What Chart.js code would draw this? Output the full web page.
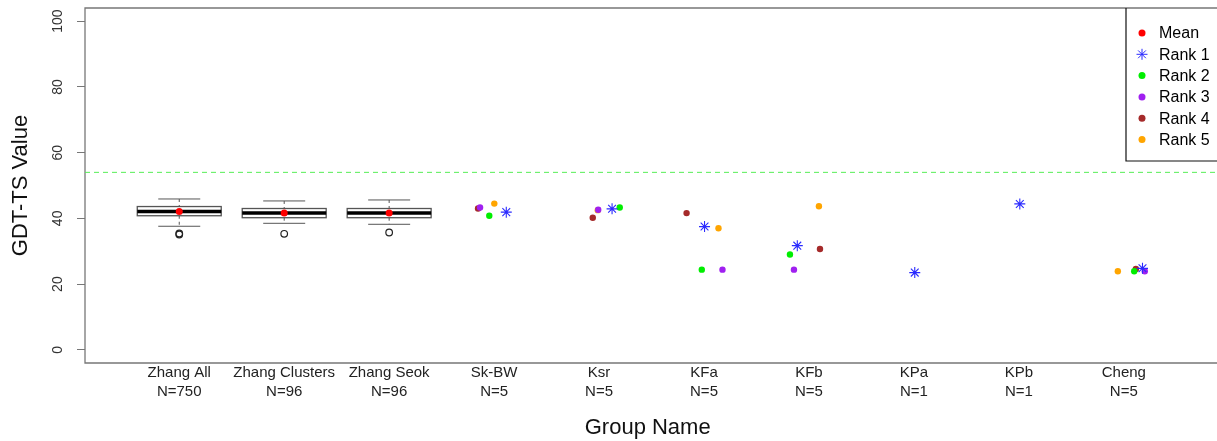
<!DOCTYPE html>
<html>
<head>
<meta charset="utf-8">
<script src="https://cdn.jsdelivr.net/npm/chart.js@4.4.0/dist/chart.umd.min.js"></script>
<style>
  html, body { margin: 0; padding: 0; background: #fff; overflow: hidden; }
  #wrap { width: 1217px; height: 441px; }
</style>
</head>
<body>
<div id="wrap"><canvas id="gdt" width="1217" height="441"></canvas></div>
<script>
// Groups on the x axis
const groups = ['Zhang All', 'Zhang Clusters', 'Zhang Seok', 'Sk-BW', 'Ksr', 'KFa', 'KFb', 'KPa', 'KPb', 'Cheng'];
const groupN = [750, 96, 96, 5, 5, 5, 5, 1, 1, 5];
const yTicks = [0, 20, 40, 60, 80, 100];

// Box plots (first three groups)
const boxLow = [37.6, 38.5, 38.2];
const boxQ1 = [40.8, 40.2, 40.2];
const boxMedian = [42.1, 41.6, 41.6];
const boxQ3 = [43.6, 43.0, 43.0];
const boxHigh = [45.9, 45.3, 45.6];
const boxOutliers = [[35.1, 35.4], [35.3], [35.7]];
const meanX = [1, 2, 3];
const meanY = [42.1, 41.6, 41.6];

// Ranked models (x is the jittered group position)
const rank1X = [4.116, 5.124, 6.005, 6.889, 8.008, 9.009, 10.178];
const rank1Y = [41.9, 42.9, 37.5, 31.7, 23.5, 44.4, 24.8];
const rank2X = [3.954, 5.197, 5.979, 6.819, 10.099];
const rank2Y = [40.8, 43.3, 24.4, 29.0, 23.9];
const rank3X = [3.866, 4.992, 6.176, 6.857, 10.200];
const rank3Y = [43.3, 42.6, 24.4, 24.4, 23.9];
const rank4X = [3.847, 4.940, 5.834, 7.105, 10.115];
const rank4Y = [43.0, 40.2, 41.6, 30.7, 24.6];
const rank5X = [4.002, 4.988, 6.138, 7.095, 9.943];
const rank5Y = [44.5, 42.5, 37.0, 43.7, 23.9];

const threshold = 54;

const FONT = "'Liberation Sans', Arial, sans-serif";
Chart.defaults.font.family = FONT;

const pts = (xs, ys) => xs.map((v, i) => ({x: v, y: ys[i]}));

function marker(ctx, style, color, x, y, r) {
    ctx.save();
    ctx.fillStyle = color;
    ctx.strokeStyle = color;
    ctx.lineWidth = 1;
    ctx.beginPath();
    if (style === 'star') {
        const d = r * Math.SQRT1_2;
        ctx.moveTo(x, y - r); ctx.lineTo(x, y + r);
        ctx.moveTo(x - r, y); ctx.lineTo(x + r, y);
        ctx.moveTo(x - d, y - d); ctx.lineTo(x + d, y + d);
        ctx.moveTo(x - d, y + d); ctx.lineTo(x + d, y - d);
        ctx.stroke();
    } else {
        ctx.arc(x, y, r, 0, Math.PI * 2);
        ctx.fill();
    }
    ctx.restore();
}

const boxPlugin = {
    id: 'boxes',
    beforeDatasetsDraw(chart) {
        const {ctx, chartArea, scales: {x, y}} = chart;
        const line = (x1, y1, x2, y2) => { ctx.beginPath(); ctx.moveTo(x1, y1); ctx.lineTo(x2, y2); ctx.stroke(); };
        ctx.save();
        // plot frame (right side runs off the picture)
        ctx.strokeStyle = '#777';
        ctx.lineWidth = 1.3;
        ctx.beginPath();
        ctx.moveTo(chart.width + 2, chartArea.top);
        ctx.lineTo(chartArea.left, chartArea.top);
        ctx.lineTo(chartArea.left, chartArea.bottom);
        ctx.lineTo(chart.width + 2, chartArea.bottom);
        ctx.stroke();

        boxMedian.forEach((med, i) => {
            const xc = x.getPixelForValue(i + 1);
            const hw = x.getPixelForValue(i + 1.4) - xc;
            const cw = hw / 2;
            const yLo = y.getPixelForValue(boxLow[i]);
            const yQ1 = y.getPixelForValue(boxQ1[i]);
            const yMed = y.getPixelForValue(med);
            const yQ3 = y.getPixelForValue(boxQ3[i]);
            const yHi = y.getPixelForValue(boxHigh[i]);
            ctx.strokeStyle = '#555';
            ctx.lineWidth = 1;
            ctx.setLineDash([3, 3]);
            line(xc, yHi, xc, yQ3);
            line(xc, yQ1, xc, yLo);
            ctx.setLineDash([]);
            line(xc - cw, yHi, xc + cw, yHi);
            line(xc - cw, yLo, xc + cw, yLo);
            ctx.fillStyle = '#fff';
            ctx.fillRect(xc - hw, yQ3, 2 * hw, yQ1 - yQ3);
            ctx.lineWidth = 1.3;
            ctx.strokeRect(xc - hw, yQ3, 2 * hw, yQ1 - yQ3);
            ctx.strokeStyle = '#000';
            ctx.lineWidth = 3.5;
            line(xc - hw, yMed, xc + hw, yMed);
            ctx.strokeStyle = '#222';
            ctx.lineWidth = 1.2;
            boxOutliers[i].forEach(v => {
                ctx.beginPath();
                ctx.arc(xc, y.getPixelForValue(v), 3.3, 0, Math.PI * 2);
                ctx.stroke();
            });
        });
        ctx.restore();
    }
};

const legendPlugin = {
    id: 'rLegend',
    afterDatasetsDraw(chart) {
        const {ctx, chartArea} = chart;
        const left = 1126, top = chartArea.top, bottom = 161;
        ctx.save();
        ctx.fillStyle = '#fff';
        ctx.fillRect(left, top + 1, chart.width - left, bottom - top - 1);
        ctx.strokeStyle = '#111';
        ctx.lineWidth = 1.2;
        ctx.beginPath();
        ctx.moveTo(left, top);
        ctx.lineTo(left, bottom);
        ctx.lineTo(chart.width + 2, bottom);
        ctx.stroke();
        ctx.font = '16px ' + FONT;
        ctx.textBaseline = 'middle';
        ctx.textAlign = 'left';
        chart.data.datasets.filter(d => d.inLegend).forEach((d, i) => {
            const yy = top + 25 + i * 21.3;
            marker(ctx, d.pointStyle, d.borderColor, 1142, yy, d.pointStyle === 'star' ? 5.5 : 3.5);
            ctx.fillStyle = '#000';
            ctx.fillText(d.label, 1159, yy + 1);
        });
        ctx.restore();
    }
};

const GDT = document.getElementById('gdt');
const gdtChart = new Chart(GDT, {
    type: 'scatter',
    data: {
        datasets: [
            {label: 'Mean', inLegend: true, data: pts(meanX, meanY), pointStyle: 'circle', pointRadius: 3.5,
             backgroundColor: '#ff0000', borderColor: '#ff0000', borderWidth: 0},
            {label: 'Rank 1', inLegend: true, data: pts(rank1X, rank1Y), pointStyle: 'star', pointRadius: 5.5,
             backgroundColor: '#2b2bff', borderColor: '#2b2bff', borderWidth: 1.1},
            {label: 'Rank 2', inLegend: true, data: pts(rank2X, rank2Y), pointStyle: 'circle', pointRadius: 3.2,
             backgroundColor: '#00ee00', borderColor: '#00ee00', borderWidth: 0},
            {label: 'Rank 3', inLegend: true, data: pts(rank3X, rank3Y), pointStyle: 'circle', pointRadius: 3.2,
             backgroundColor: '#a020f0', borderColor: '#a020f0', borderWidth: 0},
            {label: 'Rank 4', inLegend: true, data: pts(rank4X, rank4Y), pointStyle: 'circle', pointRadius: 3.2,
             backgroundColor: '#a52a2a', borderColor: '#a52a2a', borderWidth: 0},
            {label: 'Rank 5', inLegend: true, data: pts(rank5X, rank5Y), pointStyle: 'circle', pointRadius: 3.2,
             backgroundColor: '#ffa500', borderColor: '#ffa500', borderWidth: 0},
            {label: 'Threshold', type: 'line', order: 10, clip: false,
             data: [{x: 0.102, y: threshold}, {x: 10.9, y: threshold}],
             borderColor: '#55ee55', borderWidth: 1, borderDash: [5, 4], pointRadius: 0, fill: false}
        ]
    },
    options: {
        responsive: false,
        animation: false,
        devicePixelRatio: 1,
        layout: {
            padding: {top: 8, right: 0, left: 0, bottom: 0}
        },
        plugins: {
            legend: {display: false},
            tooltip: {enabled: false}
        },
        scales: {
            x: {
                type: 'linear',
                min: 0.102,
                max: 10.825,
                afterBuildTicks: s => { s.ticks = groups.map((g, i) => ({value: i + 1})); },
                afterFit: s => { s.height = 78; s.paddingLeft = 0; s.paddingRight = 0; },
                grid: {display: false, drawTicks: false},
                border: {display: false},
                ticks: {
                    autoSkip: false,
                    maxRotation: 0,
                    padding: 0,
                    color: '#222',
                    font: {size: 15, lineHeight: 1.3},
                    callback: v => [groups[v - 1], 'N=' + groupN[v - 1]]
                },
                title: {
                    display: true,
                    text: 'Group Name',
                    color: '#111',
                    font: {size: 22},
                    padding: {top: 4, bottom: 0}
                }
            },
            y: {
                min: -4,
                max: 104,
                afterBuildTicks: s => { s.ticks = yTicks.map(v => ({value: v})); },
                afterFit: s => { s.width = 85; s.paddingTop = 0; s.paddingBottom = 0; },
                grid: {drawOnChartArea: false, tickLength: 8, color: '#777', tickColor: '#777'},
                border: {display: false},
                ticks: {
                    minRotation: 90,
                    maxRotation: 90,
                    crossAlign: 'center',
                    padding: 7,
                    color: '#333',
                    font: {size: 14}
                },
                title: {
                    display: true,
                    text: 'GDT-TS Value',
                    color: '#111',
                    font: {size: 22},
                    padding: {top: 7.5, bottom: 0}
                }
            }
        }
    },
    plugins: [boxPlugin, legendPlugin]
});
</script>
</body>
</html>
